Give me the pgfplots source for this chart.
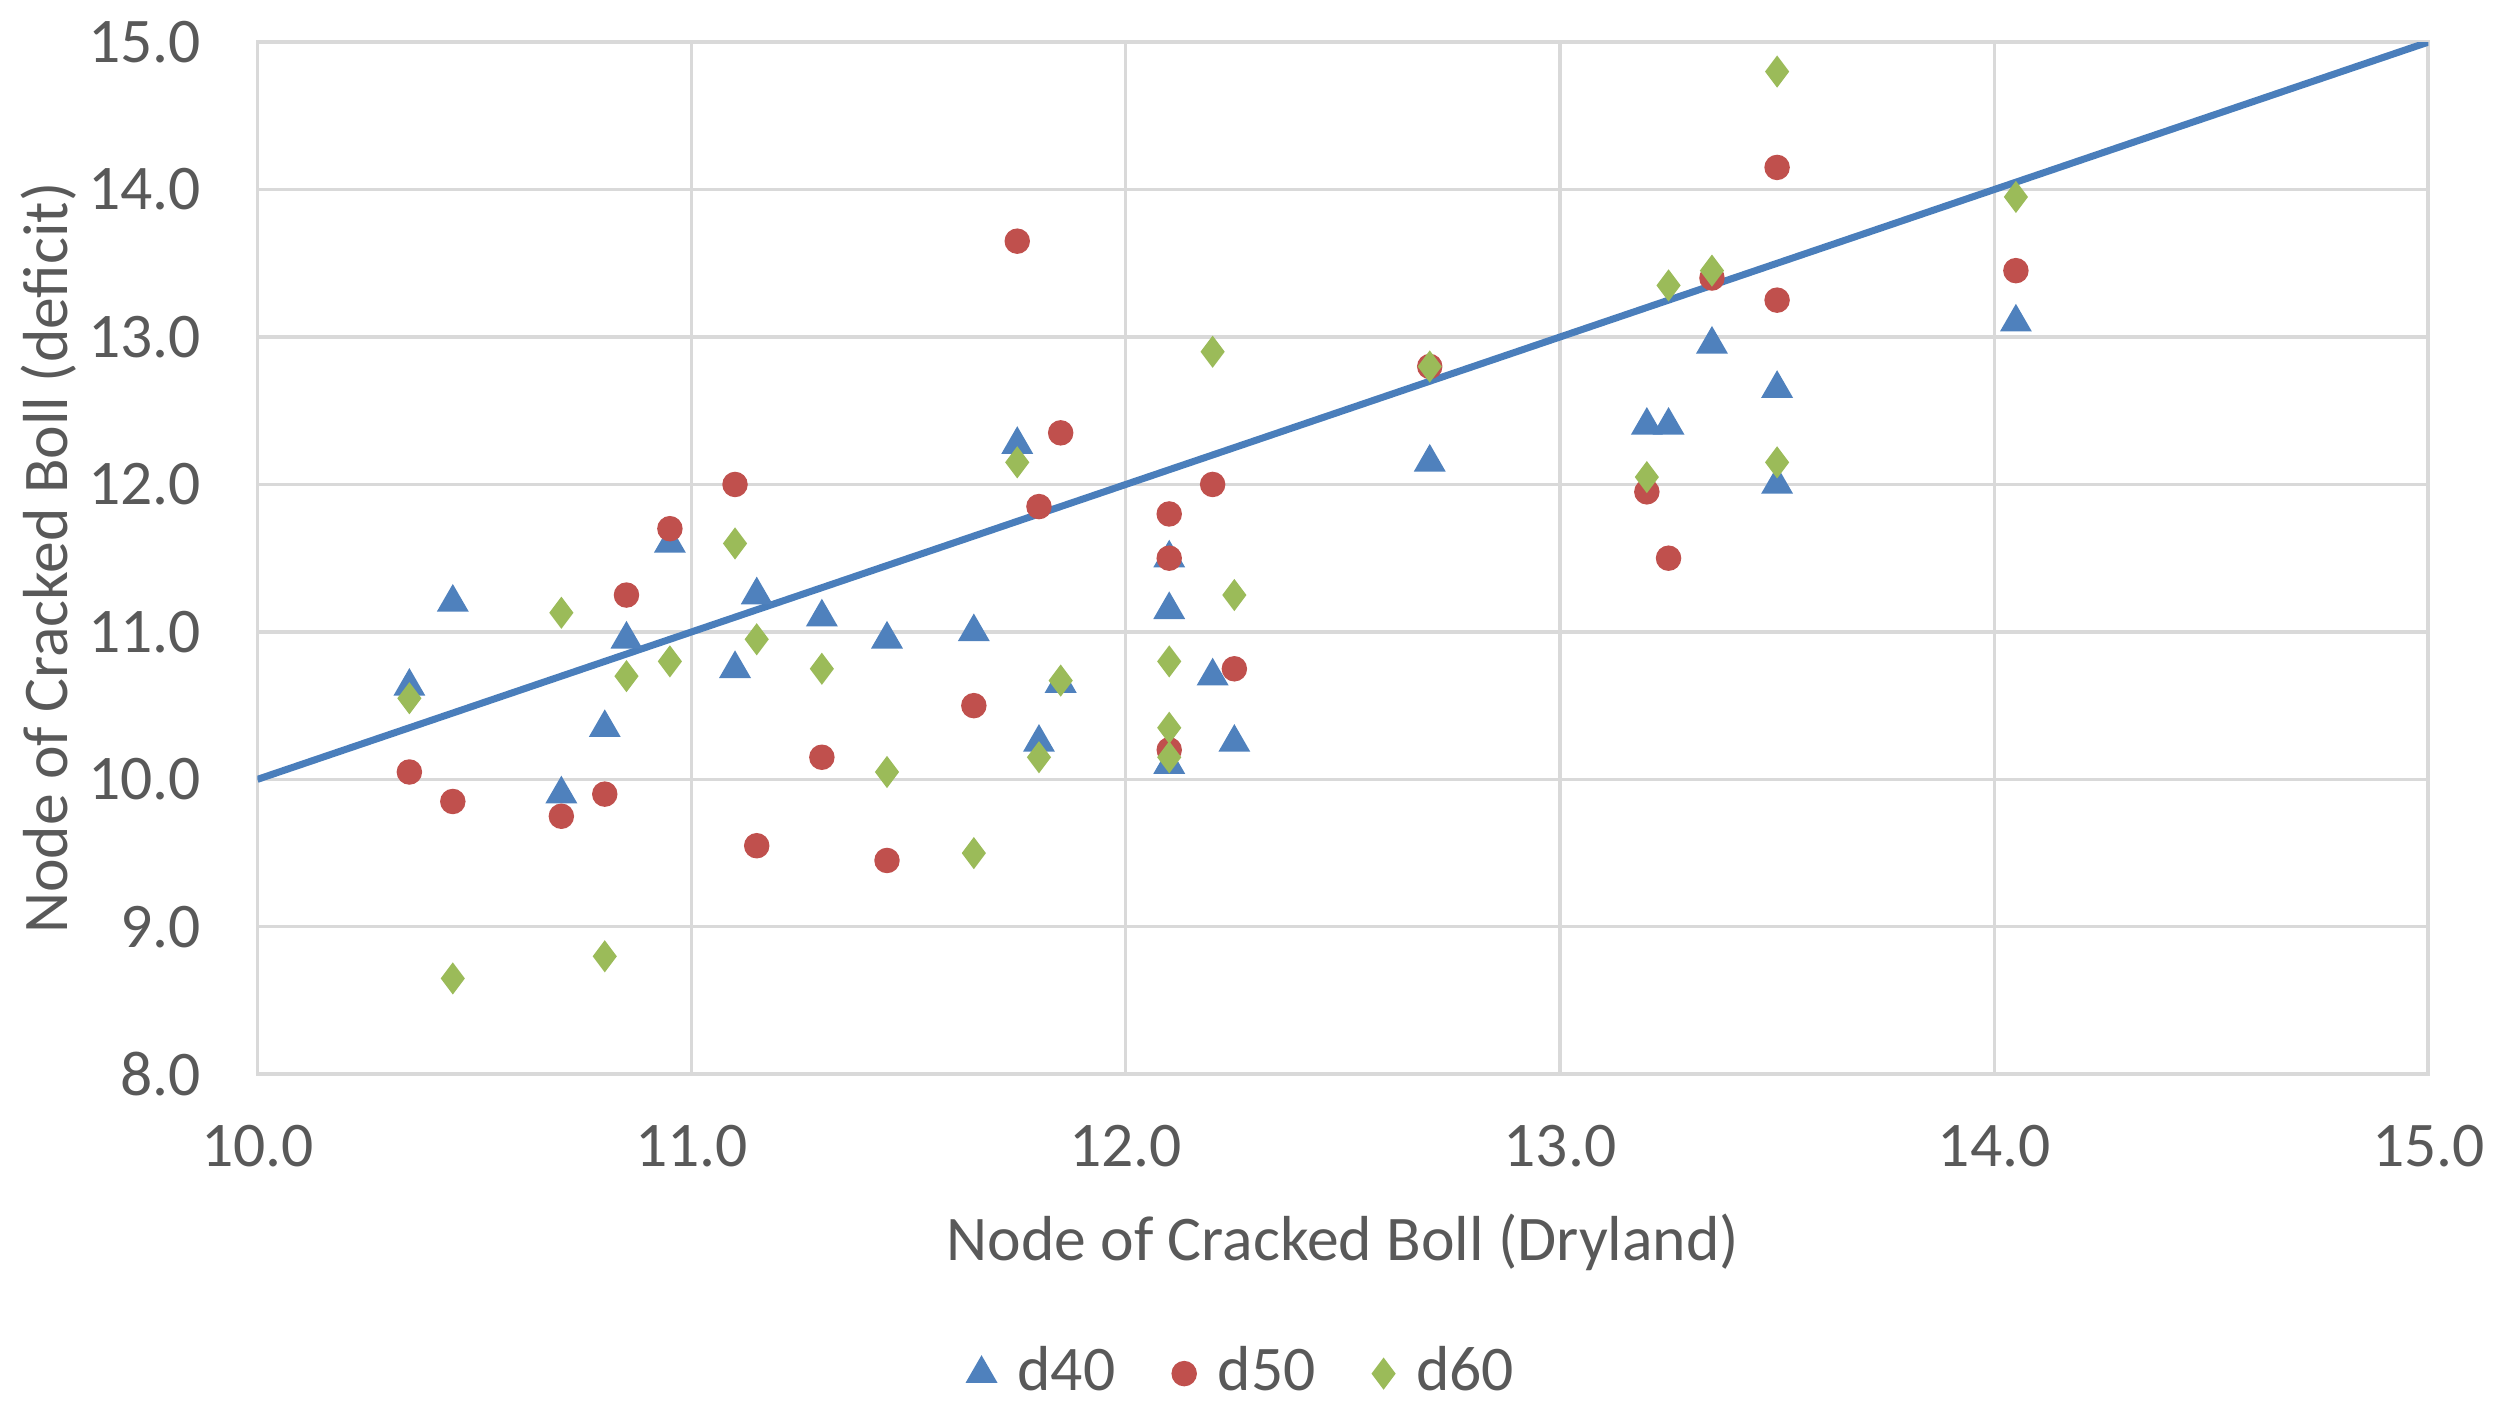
\documentclass[border=0pt]{standalone}
\usepackage{fontspec}
\setmainfont{Carlito}
\usepackage{pgfplots}
\pgfplotsset{compat=1.18}

\definecolor{txtgray}{RGB}{89,89,89}
\definecolor{gridgray}{RGB}{217,217,217}
\definecolor{sblue}{RGB}{79,129,189}
\definecolor{sred}{RGB}{192,80,77}
\definecolor{sgreen}{RGB}{155,187,89}
\definecolor{lblue}{RGB}{74,126,187}

\begin{document}
\fontsize{10}{12}\selectfont
\begin{tikzpicture}
\begin{axis}[
  scale only axis,
  width=341.25pt, height=162.25pt,
  xmin=10, xmax=15, ymin=8, ymax=15,
  xtick={10,11,...,15}, ytick={8,9,...,15},
  /pgf/number format/.cd, fixed, fixed zerofill, precision=1, assume math mode=true,
  /pgfplots/.cd,
  grid=major,
  grid style={gridgray, line width=0.5pt},
  axis line style={gridgray, line width=0.6pt},
  major tick length=0pt,
  tick label style={font=\fontsize{10}{12}\selectfont, text=txtgray},
  xticklabel style={yshift=-4.5pt},
  yticklabel style={xshift=-5.3pt},
  xlabel={Node of Cracked Boll (Dryland)},
  ylabel={Node of Cracked Boll (deficit)},
  label style={font=\fontsize{10}{12}\selectfont, text=txtgray},
  xlabel style={yshift=-0.5pt},
  ylabel style={yshift=-5pt},
  legend style={at={(0.456,-0.29)}, anchor=center, draw=none,
    inner sep=0pt, outer sep=0pt, nodes={inner ysep=1pt},
    legend columns=-1, font=\fontsize{10}{12}\selectfont, text=txtgray,
    /tikz/every even column/.append style={column sep=7pt},
    /tikz/every odd column/.append style={column sep=1.5pt}},
  legend cell align=left,
]
\addplot[lblue, line width=1.1pt, forget plot] coordinates {(10,10) (15,15)};

\addplot[only marks, mark=triangle*, mark size=2.5pt, color=sblue, mark options={draw=sblue, fill=sblue}] table {
10.35 10.63
10.45 11.20
10.70 9.90
10.80 10.35
10.85 10.95
10.95 11.60
11.10 10.75
11.15 11.25
11.30 11.10
11.45 10.95
11.65 11.00
11.75 12.27
11.80 10.25
11.85 10.65
12.10 11.50
12.10 11.15
12.10 10.10
12.20 10.70
12.25 10.25
12.70 12.15
13.20 12.40
13.25 12.40
13.35 12.95
13.50 12.65
13.50 12.00
14.05 13.10
};
\addlegendentry{d40}

\addplot[only marks, mark=*, mark size=1.8pt, color=sred, mark options={draw=sred, fill=sred}] table {
10.35 10.05
10.45 9.85
10.70 9.75
10.80 9.90
10.85 11.25
10.95 11.70
11.10 12.00
11.15 9.55
11.30 10.15
11.45 9.45
11.65 10.50
11.75 13.65
11.80 11.85
11.85 12.35
12.10 11.80
12.10 11.50
12.10 10.20
12.20 12.00
12.25 10.75
12.70 12.80
13.20 11.95
13.25 11.50
13.35 13.40
13.50 14.15
13.50 13.25
14.05 13.45
};
\addlegendentry{d50}

\addplot[only marks, mark=diamond*, mark size=2.2pt, color=sgreen, mark options={draw=sgreen, fill=sgreen}] table {
10.35 10.55
10.45 8.65
10.70 11.13
10.80 8.80
10.85 10.70
10.95 10.80
11.10 11.60
11.15 10.95
11.30 10.75
11.45 10.05
11.65 9.50
11.75 12.15
11.80 10.15
11.85 10.67
12.10 10.80
12.10 10.35
12.10 10.15
12.20 12.90
12.25 11.25
12.70 12.80
13.20 12.05
13.25 13.35
13.35 13.45
13.50 14.80
13.50 12.15
14.05 13.95
};
\addlegendentry{d60}
\end{axis}
\end{tikzpicture}
\end{document}
